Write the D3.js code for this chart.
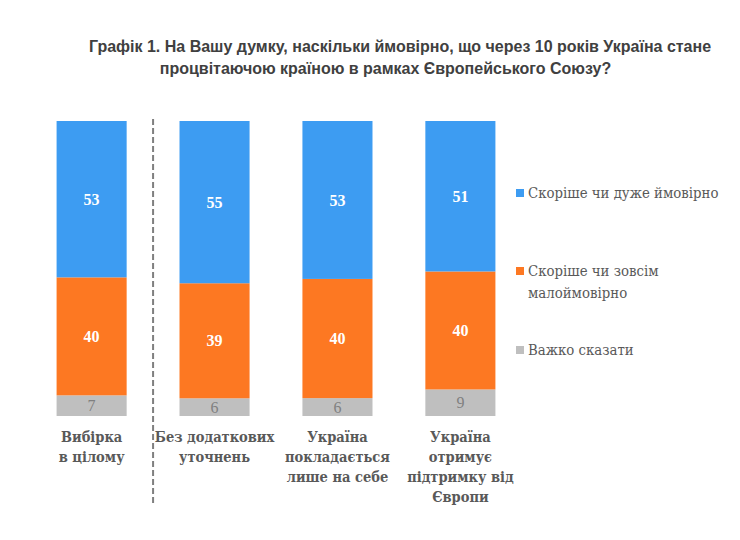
<!DOCTYPE html>
<html>
<head>
<meta charset="utf-8">
<script src="https://cdn.jsdelivr.net/npm/d3@7"></script>
<style>
  html, body { margin: 0; padding: 0; background: #ffffff; }
  svg { display: block; }
</style>
</head>
<body>
<svg id="chart" width="740" height="540"></svg>
<script>
// ---- data ----
const categories = [
  ["Вибірка", "в цілому"],
  ["Без додаткових", "уточнень"],
  ["Україна", "покладається", "лише на себе"],
  ["Україна", "отримує", "підтримку від", "Європи"]
];
const seriesNames = ["Скоріше чи дуже ймовірно", "Скоріше чи зовсім малоймовірно", "Важко сказати"];
const likely   = [53, 55, 53, 51];
const unlikely = [40, 39, 40, 40];
const hard     = [7, 6, 6, 9];
const titleLines = [
  "Графік 1. На Вашу думку, наскільки ймовірно, що через 10 років Україна стане",
  "процвітаючою країною в рамках Європейського Союзу?"
];

const colors = ["#3d9cf2", "#fd7822", "#bfbfbf"];
const labelColors = ["#ffffff", "#ffffff", "#7f7f7f"];
const serifNum = "'Liberation Serif','Times New Roman',serif";
const serifCyr = "'DejaVu Serif Condensed','DejaVu Serif','Liberation Serif',serif";

const svg = d3.select("#chart");

// title
const titleCx = [400, 385.5];
svg.append("g").selectAll("text").data(titleLines).join("text")
  .attr("x", (d, i) => titleCx[i])
  .attr("y", (d, i) => 52 + i * 22)
  .attr("text-anchor", "middle")
  .attr("font-family", "'Liberation Sans',Arial,sans-serif")
  .attr("font-weight", "bold")
  .attr("font-size", 16)
  .attr("fill", "#404040")
  .text(d => d);

// scales
const x = d3.scaleBand().domain(d3.range(categories.length)).range([32, 520]).paddingInner(0.43).paddingOuter(0.2);
const y = d3.scaleLinear().domain([0, 1]).range([416, 121]);

const rows = categories.map((c, i) => ({ i, likely: likely[i], unlikely: unlikely[i], hard: hard[i] }));
// stack bottom->top: hard, unlikely, likely; normalised to 100%
const stack = d3.stack().keys(["hard", "unlikely", "likely"]).offset(d3.stackOffsetExpand)(rows);
const keyIndex = { likely: 0, unlikely: 1, hard: 2 };

const layers = svg.append("g").selectAll("g").data(stack).join("g")
  .attr("fill", d => colors[keyIndex[d.key]]);

layers.selectAll("rect").data(d => d).join("rect")
  .attr("x", d => x(d.data.i))
  .attr("width", x.bandwidth())
  .attr("y", d => y(d[1]))
  .attr("height", d => y(d[0]) - y(d[1]));

layers.selectAll("text").data(d => d.map(v => ({ v, key: d.key }))).join("text")
  .attr("x", d => x(d.v.data.i) + x.bandwidth() / 2)
  .attr("y", d => (y(d.v[0]) + y(d.v[1])) / 2)
  .attr("dy", "0.35em")
  .attr("text-anchor", "middle")
  .attr("font-family", serifNum)
  .attr("font-weight", d => d.key === "hard" ? "normal" : "bold")
  .attr("font-size", 16)
  .attr("fill", d => labelColors[keyIndex[d.key]])
  .text(d => d.v.data[d.key]);

// dashed separator
const sepX = (x(0) + x.bandwidth() + x(1)) / 2;
svg.append("line")
  .attr("x1", sepX).attr("x2", sepX)
  .attr("y1", 119).attr("y2", 506)
  .attr("stroke", "#7f7f7f")
  .attr("stroke-width", 2)
  .attr("stroke-dasharray", "6,3");

// category labels
const catG = svg.append("g").selectAll("text").data(categories).join("text")
  .attr("text-anchor", "middle")
  .attr("font-family", serifCyr)
  .attr("font-weight", "bold")
  .attr("font-size", 14.5)
  .attr("fill", "#595959")
  .attr("transform", (d, i) => `translate(${x(i) + x.bandwidth() / 2},442)`);
catG.selectAll("tspan").data(d => d).join("tspan")
  .attr("x", 0)
  .attr("y", (d, j) => j * 20)
  .text(d => d);

// legend
const legendItems = [
  { lines: ["Скоріше чи дуже ймовірно"], y: 193 },
  { lines: ["Скоріше чи зовсім", "малоймовірно"], y: 271 },
  { lines: ["Важко сказати"], y: 350 }
];
const lg = svg.append("g").selectAll("g").data(legendItems).join("g")
  .attr("transform", d => `translate(516,${d.y})`);
lg.append("rect")
  .attr("x", 0).attr("y", -4)
  .attr("width", 8).attr("height", 8)
  .attr("fill", (d, i) => colors[i]);
const lt = lg.append("text")
  .attr("font-family", serifCyr)
  .attr("font-size", 14.8)
  .attr("fill", "#595959");
lt.selectAll("tspan").data(d => d.lines).join("tspan")
  .attr("x", 12)
  .attr("y", (d, j) => j * 22)
  .attr("dy", "0.35em")
  .text(d => d);
</script>
</body>
</html>
